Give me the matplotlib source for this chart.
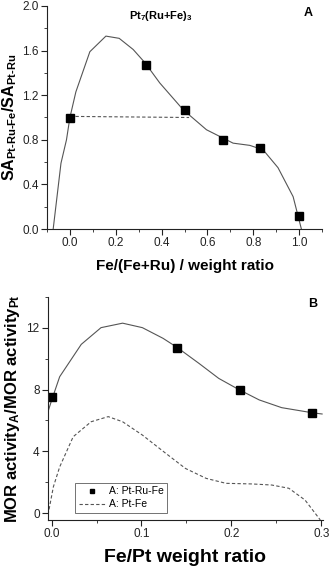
import matplotlib
matplotlib.use("Agg")
import matplotlib.pyplot as plt
from matplotlib.ticker import MultipleLocator

plt.rcParams['font.family'] = ['Liberation Sans', 'DejaVu Sans']
plt.rcParams['mathtext.fontset'] = 'custom'
plt.rcParams['mathtext.rm'] = 'Liberation Sans:bold'
plt.rcParams['mathtext.it'] = 'Liberation Sans:bold'
plt.rcParams['mathtext.bf'] = 'Liberation Sans:bold'

# Panel A data
a_pts_x = [0.0, 0.33, 0.5, 0.67, 0.83, 1.0]
a_pts_y = [1.0, 1.47, 1.07, 0.80, 0.73, 0.12]
a_curve_x = [-0.073, -0.039, -0.015, 0.0, 0.026, 0.087, 0.157, 0.215, 0.276, 0.328,
             0.392, 0.494, 0.596, 0.712, 0.785, 0.843, 0.908, 0.974, 1.01]
a_curve_y = [0.0, 0.59, 0.80, 1.0, 1.23, 1.59, 1.73, 1.71, 1.61, 1.49,
             1.31, 1.07, 0.89, 0.77, 0.75, 0.71, 0.55, 0.29, 0.0]
a_dash_x = [0.0, 0.52]
a_dash_y = [1.01, 1.0]

# Panel B data
b_pts_x = [0.0, 0.14, 0.21, 0.29]
b_pts_y = [7.5, 10.7, 8.0, 6.5]
b_curve_x = [-0.004, 0.0, 0.009, 0.033, 0.055, 0.079, 0.101, 0.124, 0.14, 0.164,
             0.186, 0.208, 0.231, 0.256, 0.29, 0.301]
b_curve_y = [6.57, 7.3, 8.83, 10.92, 12.0, 12.29, 12.0, 11.31, 10.71, 9.69,
             8.72, 8.01, 7.33, 6.83, 6.5, 6.42]
b_fe_x = [-0.004, 0.002, 0.009, 0.024, 0.044, 0.063, 0.079, 0.101, 0.127, 0.149,
          0.172, 0.194, 0.223, 0.245, 0.264, 0.282, 0.299]
b_fe_y = [-0.1, 1.72, 3.0, 4.95, 5.92, 6.25, 5.92, 5.06, 3.88, 2.9,
          2.26, 1.94, 1.9, 1.83, 1.62, 0.86, -0.43]

W, H = 331, 568
fig = plt.figure(figsize=(W / 100, H / 100), dpi=100)

line_col = '#555555'

def style(ax):
    for s in ['top', 'right']:
        ax.spines[s].set_visible(False)
    for s in ['left', 'bottom']:
        ax.spines[s].set_linewidth(0.8)
        ax.spines[s].set_color('#222222')
    ax.tick_params(which='major', direction='out', length=4, width=0.8, labelsize=8.5,
                   colors='#222222', pad=2)
    ax.tick_params(which='minor', direction='out', length=2.5, width=0.6, colors='#222222')

# Panel A
axA = fig.add_axes([47 / W, 1 - 229 / H, (322 - 47) / W, (229 - 6) / H])
axA.plot(a_curve_x, a_curve_y, color=line_col, lw=0.8)
axA.plot(a_dash_x, a_dash_y, color=line_col, lw=0.8, ls=(0, (3, 2)))
axA.plot(a_pts_x, a_pts_y, 's', color='black', ms=5.5, ls='none')
axA.set_xlim(-0.1, 1.1)
axA.set_ylim(0, 2.0)
axA.set_xticks([0.0, 0.2, 0.4, 0.6, 0.8, 1.0])
axA.set_xticklabels(['0.0', '0.2', '0.4', '0.6', '0.8', '1.0'])
axA.xaxis.set_minor_locator(MultipleLocator(0.1))
axA.set_yticks([0.0, 0.4, 0.8, 1.2, 1.6, 2.0])
axA.set_yticklabels(['0.0', '0.4', '0.8', '1.2', '1.6', '2.0'])
axA.yaxis.set_minor_locator(MultipleLocator(0.2))
style(axA)
axA.set_xlabel('Fe/(Fe+Ru) / weight ratio', fontsize=11, fontweight='bold', labelpad=7)
axA.set_ylabel(r'SA$_{\text{Pt-Ru-Fe}}$/SA$_{\text{Pt-Ru}}$', fontsize=11.5,
               fontweight='bold', labelpad=2)
fig.text(161 / W, 1 - 16 / H, r'Pt$_{\text{7}}$(Ru+Fe)$_{\text{3}}$', fontsize=8,
         fontweight='bold', ha='center', va='center')
fig.text(308 / W, 1 - 13 / H, 'A', fontsize=9, fontweight='bold', ha='center', va='center')

# Panel B
axB = fig.add_axes([48 / W, 1 - 520 / H, (323 - 48) / W, (520 - 296.7) / H])
axB.plot(b_curve_x, b_curve_y, color=line_col, lw=0.8)
axB.plot(b_fe_x, b_fe_y, color=line_col, lw=0.8, ls=(0, (3, 2)), label='A: Pt-Fe')
axB.plot(b_pts_x, b_pts_y, 's', color='black', ms=5.5, ls='none', label='A: Pt-Ru-Fe')
axB.set_xlim(-0.004, 0.302)
axB.set_ylim(-0.43, 14.0)
axB.set_xticks([0.0, 0.1, 0.2, 0.3])
axB.set_xticklabels(['0.0', '0.1', '0.2', '0.3'])
axB.xaxis.set_minor_locator(MultipleLocator(0.05))
axB.set_yticks([0, 4, 8, 12])
axB.yaxis.set_minor_locator(MultipleLocator(2))
style(axB)
axB.set_xlabel('Fe/Pt weight ratio', fontsize=14, fontweight='bold', labelpad=6)
axB.set_ylabel(r'MOR activity$_{\text{A}}$/MOR activity$_{\text{Pt}}$', fontsize=12,
               fontweight='bold', labelpad=3)
h, l = axB.get_legend_handles_labels()
leg = axB.legend([h[1], h[0]], [l[1], l[0]], loc='lower left',
                 bbox_to_anchor=((75 - 48) / (323 - 48), (520 - 513) / (520 - 296.7)),
                 fontsize=7.5, frameon=True, fancybox=False, edgecolor='#333333',
                 handlelength=2.6, handletextpad=0.3, borderpad=0.35, borderaxespad=0,
                 labelspacing=0.3, markerscale=0.6)
leg.get_frame().set_linewidth(0.6)
fig.text(313 / W, 1 - 304 / H, 'B', fontsize=9, fontweight='bold', ha='center', va='center')

fig.savefig('out.png', dpi=100)
